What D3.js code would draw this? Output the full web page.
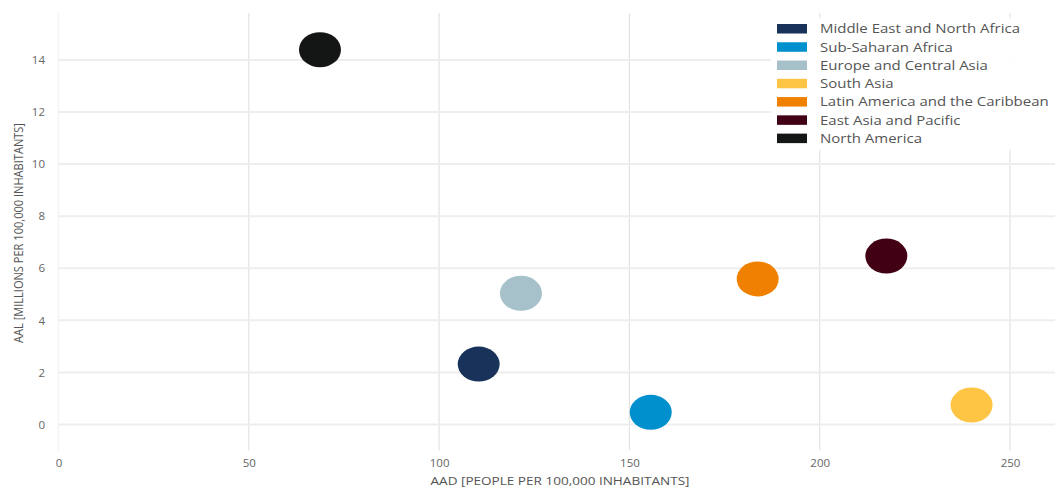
<!DOCTYPE html>
<html>
<head>
<meta charset="utf-8">
<script src="https://cdn.jsdelivr.net/npm/d3@7"></script>
<style>
  html, body { margin: 0; padding: 0; background: #fff; }
  svg { display: block; }
</style>
</head>
<body>
<svg id="chart" width="1055" height="488"></svg>
<script>
// ---- data ----
const regions = ["Middle East and North Africa", "Sub-Saharan Africa", "Europe and Central Asia", "South Asia", "Latin America and the Caribbean", "East Asia and Pacific", "North America"];
const aad = [110.4, 155.6, 121.5, 239.9, 183.7, 217.5, 68.7];
const aal = [2.32, 0.47, 5.04, 0.75, 5.59, 6.47, 14.39];
const colors = ["#18325a", "#0090cd", "#a6c1c9", "#fdc543", "#f08100", "#420014", "#141615"];
const xTicks = [0, 50, 100, 150, 200, 250];
const yTicks = [0, 2, 4, 6, 8, 10, 12, 14];
const xTitle = "AAD [PEOPLE PER 100,000 INHABITANTS]";
const yTitle = "AAL [MILLIONS PER 100,000 INHABITANTS]";

const svg = d3.select("#chart");
const font = "'Open Sans', 'Noto Sans', sans-serif";

const x = d3.scaleLinear().domain([0, 262]).range([58.5, 1055.7]);
const y = d3.scaleLinear().domain([-1, 15.8]).range([450.6, 13]);

const xAxis = d3.axisBottom(x).tickValues(xTicks).tickSize(0).tickPadding(0).tickFormat(d3.format("d"));
const yAxis = d3.axisLeft(y).tickValues(yTicks).tickSize(0).tickFormat(d3.format("d"));

// gridlines
svg.append("g").selectAll("line.vg").data(xTicks).join("line")
  .attr("x1", d => x(d)).attr("x2", d => x(d))
  .attr("y1", y.range()[1]).attr("y2", y.range()[0])
  .attr("stroke", d => d === 0 ? "#f3f3f3" : "#e3e3e3").attr("stroke-width", 1.2);

svg.append("g").selectAll("line.hg").data(yTicks).join("line")
  .attr("x1", 58).attr("x2", 1055)
  .attr("y1", d => y(d)).attr("y2", d => y(d))
  .attr("stroke", "#eeeeee").attr("stroke-width", 2);

// axes labels (via d3 axis)
const gx = svg.append("g").attr("transform", "translate(0,459)").call(xAxis);
gx.select(".domain").remove();
gx.selectAll("text").attr("font-family", font).attr("font-size", 11.5).attr("fill", "#666").attr("dy", "0.71em");

const gy = svg.append("g").attr("transform", "translate(48,0)").call(yAxis);
gy.select(".domain").remove();
gy.selectAll("text").attr("font-family", font).attr("font-size", 11.5).attr("fill", "#666").attr("dx", "0");

// titles
svg.append("text").attr("x", 560).attr("y", 485).attr("text-anchor", "middle")
  .attr("font-family", font).attr("font-size", 11.5).attr("fill", "#555")
  .attr("textLength", 259).attr("lengthAdjust", "spacingAndGlyphs").text(xTitle);

svg.append("text").attr("transform", "translate(23,233) rotate(-90)").attr("text-anchor", "middle")
  .attr("font-family", font).attr("font-size", 12).attr("fill", "#555")
  .attr("textLength", 220).attr("lengthAdjust", "spacingAndGlyphs").text(yTitle);

// points
const pts = regions.map((r, i) => ({ r, x: aad[i], y: aal[i], c: colors[i] }));
svg.append("g").selectAll("ellipse").data(pts).join("ellipse")
  .attr("cx", d => x(d.x)).attr("cy", d => y(d.y))
  .attr("rx", 21).attr("ry", 17.5)
  .attr("fill", d => d.c);

// legend
const lg = svg.append("g");
lg.append("rect").attr("x", 771).attr("y", 18).attr("width", 284).attr("height", 132)
  .attr("fill", "#fff").attr("fill-opacity", 0.92);
const items = lg.selectAll("g.item").data(pts).join("g")
  .attr("transform", (d, i) => `translate(0,${28.7 + i * 18.27})`);
items.append("rect").attr("x", 777).attr("y", -4.7).attr("width", 30).attr("height", 9.5)
  .attr("fill", d => d.c);
const texts = items.append("text").attr("x", 0).attr("y", 0).attr("dy", "0.35em")
  .attr("font-family", font).attr("font-size", 13).attr("fill", "#555")
  .text(d => d.r);
let maxW = 0;
texts.each(function() { maxW = Math.max(maxW, this.getComputedTextLength()); });
const k = maxW > 0 ? 229 / maxW : 1;
texts.attr("transform", `translate(820,0) scale(${k},1)`);
</script>
</body>
</html>
